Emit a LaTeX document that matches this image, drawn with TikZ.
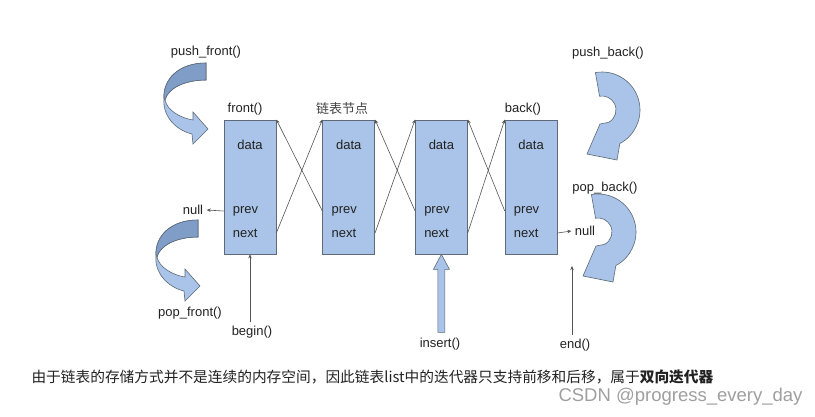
\documentclass[tikz,border=0pt]{standalone}
\usepackage{fontspec}
\setmainfont{Liberation Sans}
\newfontfamily\cjk{Noto Sans CJK SC}
\usetikzlibrary{arrows.meta,positioning,calc}
\definecolor{ListBlue}{HTML}{A9C4E8}
\definecolor{ListDeep}{HTML}{7F9DC6}
\definecolor{ListEdge}{HTML}{5E6A78}
\definecolor{ListInk}{HTML}{222222}
\definecolor{ListLine}{HTML}{555555}
\tikzset{
  cell/.style={draw=ListEdge,fill=ListBlue,minimum width=52pt,minimum height=134pt,line width=0.7pt,inner sep=0pt},
  fld/.style={font=\fontsize{13}{15}\selectfont,text=ListInk,inner sep=1pt},
  lbl/.style={font=\fontsize{13}{15}\selectfont,text=ListInk},
  link/.style={draw=ListLine,line width=0.6pt,-{Stealth[length=4pt,width=3.5pt]}},
  blob/.style={fill=ListBlue,draw=ListEdge,line width=0.6pt},
  twist/.pic={
    \filldraw[blob,yscale=-1] (0,0) .. controls (-28,0) and (-43,17) .. (-42,35) .. controls (-44,52) and (-31,67) .. (-14,71) -- (-13,81) -- (2,66) -- (-13,49) -- (-13,57) .. controls (-26,55) and (-39,47) .. (-41,37) .. controls (-38,25) and (-21,17) .. (0,17) -- cycle;
    \filldraw[blob,fill=ListDeep,yscale=-1] (0,0) .. controls (-28,0) and (-43,17) .. (-42,35) -- (-41,37) .. controls (-38,25) and (-21,17) .. (0,17) -- cycle;
  },
  bend/.pic={
    \filldraw[blob,yscale=-1] (-100:38) arc[start angle=-100,end angle=62,radius=38] -- (15,50) -- (-15,44) -- (-2,14) -- (62:14) arc[start angle=62,end angle=-100,radius=14] -- cycle;
  }
}
\begin{document}
\begin{tikzpicture}[x=1pt,y=1pt,yscale=-1]
  \fill[white] (0,0) rectangle (815,416);
  \useasboundingbox (0,0) rectangle (815,416);
  % list nodes
  \node[cell] (b1) at (250,187) {};
  \node[cell,right=46pt of b1] (b2) {};
  \node[cell,right=40pt of b2] (b3) {};
  \node[cell,right=37pt of b3] (b4) {};
  \foreach \i in {1,...,4}{
    \node[fld] (d\i) at ($(b\i.north)+(0,25)$) {data};
    \node[fld,anchor=west] (p\i) at ($(b\i.west)+(8,24)$) {prev};
    \node[fld,anchor=west] (n\i) at ($(b\i.west)+(8,46)$) {next};
  }
  \foreach \a/\b in {1/2,2/3,3/4}{
    \draw[link] (b\a.east |- n\a) -- (b\b.north west);
    \draw[link] (b\b.west |- p\b) -- (b\a.north east);
  }
  \node[lbl] (frontl) at (245,109) {front()};
  \node[lbl,font=\cjk\fontsize{13}{15}\selectfont,text=ListInk!85] (nodel) at (342,109) {链表节点};
  \node[lbl] (backl) at (523,109) {back()};
  % null ends
  \node[lbl] (nulll) at (193,210) {null};
  \node[lbl] (nullr) at (585,231) {null};
  \draw[link] (b1.west |- p1) -- (nulll.east);
  \draw[link] (b4.east |- n4) -- (nullr.west);
  % iterators
  \node[lbl] (beg) at (252,332) {begin()};
  \draw[link] (b1.south |- beg.north) -- (b1.south);
  \node[lbl] (ins) at (440,344) {insert()};
  \filldraw[blob] (b3.south) -- ++(8,15) -- ++(-4.5,0) -- ++(0,63) -- ++(-7,0) -- ++(0,-63) -- ++(-4.5,0) -- cycle;
  \node[lbl] (endl) at (575,345) {end()};
  \coordinate (endtip) at (572,266);
  \draw[link] (endtip |- endl.north) -- (endtip);
  % push / pop
  \node[lbl] (pushf) at (206,52) {push\_front()};
  \pic at (206,63) {twist};
  \node[lbl] (popf) at (190,313) {pop\_front()};
  \pic at (198,220) {twist};
  \node[lbl] (pushb) at (608,53) {push\_back()};
  \pic at (602,110) {bend};
  \node[lbl] (popb) at (605,188) {pop\_back()};
  \pic at (598,232) {bend};
  % caption
  \node[anchor=west,font=\cjk\fontsize{14.7}{17}\selectfont,text=ListInk] (cap) at (28,377) {由于链表的存储方式并不是连续的内存空间，因此链表list中的迭代器只支持前移和后移，属于\textbf{双向迭代器}};
  \node[anchor=east,font=\fontsize{18.5}{20}\selectfont,text=gray!75] (mark) at (806,397) {CSDN @progress\_every\_day};
\end{tikzpicture}
\end{document}
